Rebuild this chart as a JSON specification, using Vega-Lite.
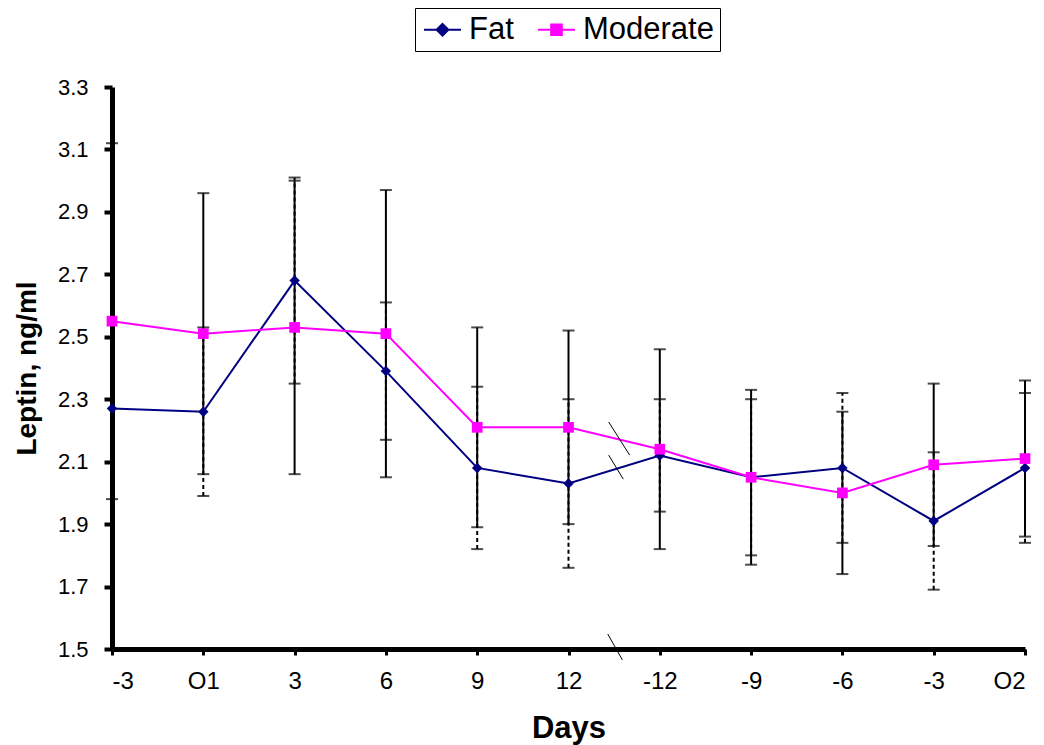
{
  "$schema": "https://vega.github.io/schema/vega-lite/v6.json",
  "width": 913,
  "height": 562,
  "autosize": {"type": "none"},
  "padding": {"left": 112, "top": 87, "right": 19, "bottom": 96},
  "background": "white",
  "config": {
    "view": {"stroke": null},
    "font": "Liberation Sans",
    "axis": {"grid": false, "domainColor": "black", "tickColor": "black", "labelColor": "black", "titleColor": "black", "labelFont": "Liberation Sans", "titleFont": "Liberation Sans"}
  },
  "datasets": {
    "main": [
      {"i": 0, "series": "Fat", "value": 2.27, "lo": null, "hi": null},
      {"i": 1, "series": "Fat", "value": 2.26, "lo": 1.99, "hi": 2.53},
      {"i": 2, "series": "Fat", "value": 2.68, "lo": 2.35, "hi": 3.01},
      {"i": 3, "series": "Fat", "value": 2.39, "lo": 2.17, "hi": 2.61},
      {"i": 4, "series": "Fat", "value": 2.08, "lo": 1.82, "hi": 2.34},
      {"i": 5, "series": "Fat", "value": 2.03, "lo": 1.76, "hi": 2.30},
      {"i": 6, "series": "Fat", "value": 2.12, "lo": 1.94, "hi": 2.30},
      {"i": 7, "series": "Fat", "value": 2.05, "lo": 1.80, "hi": 2.30},
      {"i": 8, "series": "Fat", "value": 2.08, "lo": 1.84, "hi": 2.32},
      {"i": 9, "series": "Fat", "value": 1.91, "lo": 1.69, "hi": 2.13},
      {"i": 10, "series": "Fat", "value": 2.08, "lo": 1.84, "hi": 2.32},
      {"i": 0, "series": "Moderate", "value": 2.55, "lo": 1.98, "hi": 3.12},
      {"i": 1, "series": "Moderate", "value": 2.51, "lo": 2.06, "hi": 2.96},
      {"i": 2, "series": "Moderate", "value": 2.53, "lo": 2.06, "hi": 3.00},
      {"i": 3, "series": "Moderate", "value": 2.51, "lo": 2.05, "hi": 2.97},
      {"i": 4, "series": "Moderate", "value": 2.21, "lo": 1.89, "hi": 2.53},
      {"i": 5, "series": "Moderate", "value": 2.21, "lo": 1.90, "hi": 2.52},
      {"i": 6, "series": "Moderate", "value": 2.14, "lo": 1.82, "hi": 2.46},
      {"i": 7, "series": "Moderate", "value": 2.05, "lo": 1.77, "hi": 2.33},
      {"i": 8, "series": "Moderate", "value": 2.00, "lo": 1.74, "hi": 2.26},
      {"i": 9, "series": "Moderate", "value": 2.09, "lo": 1.83, "hi": 2.35},
      {"i": 10, "series": "Moderate", "value": 2.11, "lo": 1.86, "hi": 2.36}
    ],
    "breaks": [
      {"x1": 5.44, "x2": 5.67, "y1": 2.227, "y2": 2.121},
      {"x1": 5.44, "x2": 5.60, "y1": 2.121, "y2": 2.044},
      {"x1": 5.43, "x2": 5.59, "y1": 1.548, "y2": 1.465}
    ]
  },
  "layer": [
    {
      "data": {"name": "main"},
      "transform": [{"filter": "datum.series === 'Fat'"}],
      "mark": {"type": "rule", "color": "black", "strokeWidth": 2, "strokeDash": [4, 3]},
      "encoding": {
        "x": {"field": "i", "type": "quantitative", "scale": {"domain": [0, 10], "nice": false, "zero": false},
          "axis": {"values": [0,1,2,3,4,5,6,7,8,9,10], "labelExpr": "['-3','O1','3','6','9','12','-12','-9','-6','-3','O2'][datum.value]",
            "title": "Days", "titleFontSize": 31, "titleFontWeight": "bold", "titlePadding": 20,
            "labelFontSize": 24, "labelPadding": 14, "domainWidth": 5, "tickWidth": 3, "tickSize": 6}},
        "y": {"field": "lo", "type": "quantitative", "scale": {"domain": [1.5, 3.3], "nice": false, "zero": false},
          "axis": {"values": [1.5,1.7,1.9,2.1,2.3,2.5,2.7,2.9,3.1,3.3], "format": ".1f",
            "title": "Leptin, ng/ml", "titleFontSize": 28, "titleFontWeight": "bold", "titlePadding": 16,
            "labelFontSize": 22, "labelPadding": 16, "domainWidth": 5, "tickWidth": 4, "tickSize": 8}},
        "y2": {"field": "hi"}
      }
    },
    {
      "data": {"name": "main"},
      "transform": [{"filter": "datum.series === 'Moderate'"}],
      "mark": {"type": "rule", "color": "black", "strokeWidth": 2},
      "encoding": {
        "x": {"field": "i", "type": "quantitative"},
        "y": {"field": "lo", "type": "quantitative"},
        "y2": {"field": "hi"}
      }
    },
    {
      "data": {"name": "main"},
      "mark": {"type": "tick", "color": "black", "orient": "horizontal", "size": 12, "thickness": 2},
      "encoding": {
        "x": {"field": "i", "type": "quantitative"},
        "y": {"field": "hi", "type": "quantitative"}
      }
    },
    {
      "data": {"name": "main"},
      "mark": {"type": "tick", "color": "black", "orient": "horizontal", "size": 12, "thickness": 2},
      "encoding": {
        "x": {"field": "i", "type": "quantitative"},
        "y": {"field": "lo", "type": "quantitative"}
      }
    },
    {
      "data": {"name": "main"},
      "mark": {"type": "line", "strokeWidth": 2},
      "encoding": {
        "x": {"field": "i", "type": "quantitative"},
        "y": {"field": "value", "type": "quantitative"},
        "color": {"field": "series", "type": "nominal", "scale": {"domain": ["Fat", "Moderate"], "range": ["#000080", "#FF00FF"]},
          "legend": {"title": null, "orient": "none", "legendX": 303, "legendY": -79, "direction": "horizontal",
            "strokeColor": "black", "padding": 6, "labelFontSize": 31, "labelFont": "Liberation Sans", "labelColor": "black",
            "symbolSize": 784, "symbolStrokeWidth": 2, "symbolOffset": 6, "labelOffset": 11, "columnPadding": 20,
            "encode": {"symbols": {"update": {
              "shape": {"signal": "datum.value === 'Fat' ? 'M-1.32,0H1.32M0,-0.42L0.42,0L0,0.42L-0.42,0Z' : 'M-1.32,0H1.32M-0.38,-0.38H0.38V0.38H-0.38Z'"},
              "size": {"value": 784},
              "fill": {"signal": "datum.value === 'Fat' ? '#000080' : '#FF00FF'"},
              "stroke": {"signal": "datum.value === 'Fat' ? '#000080' : '#FF00FF'"},
              "strokeWidth": {"value": 2},
              "opacity": {"value": 1}
            }}}}
        }
      }
    },
    {
      "data": {"name": "main"},
      "transform": [{"filter": "datum.series === 'Fat'"}],
      "mark": {"type": "point", "filled": true, "opacity": 1, "size": 110, "shape": "diamond"},
      "encoding": {
        "x": {"field": "i", "type": "quantitative"},
        "y": {"field": "value", "type": "quantitative"},
        "color": {"field": "series", "type": "nominal"}
      }
    },
    {
      "data": {"name": "main"},
      "transform": [{"filter": "datum.series === 'Moderate'"}],
      "mark": {"type": "point", "filled": true, "opacity": 1, "size": 115, "shape": "square"},
      "encoding": {
        "x": {"field": "i", "type": "quantitative"},
        "y": {"field": "value", "type": "quantitative"},
        "color": {"field": "series", "type": "nominal"}
      }
    },
    {
      "data": {"name": "breaks"},
      "mark": {"type": "rule", "color": "black", "strokeWidth": 1},
      "encoding": {
        "x": {"field": "x1", "type": "quantitative"},
        "x2": {"field": "x2"},
        "y": {"field": "y1", "type": "quantitative"},
        "y2": {"field": "y2"}
      }
    }
  ]
}
